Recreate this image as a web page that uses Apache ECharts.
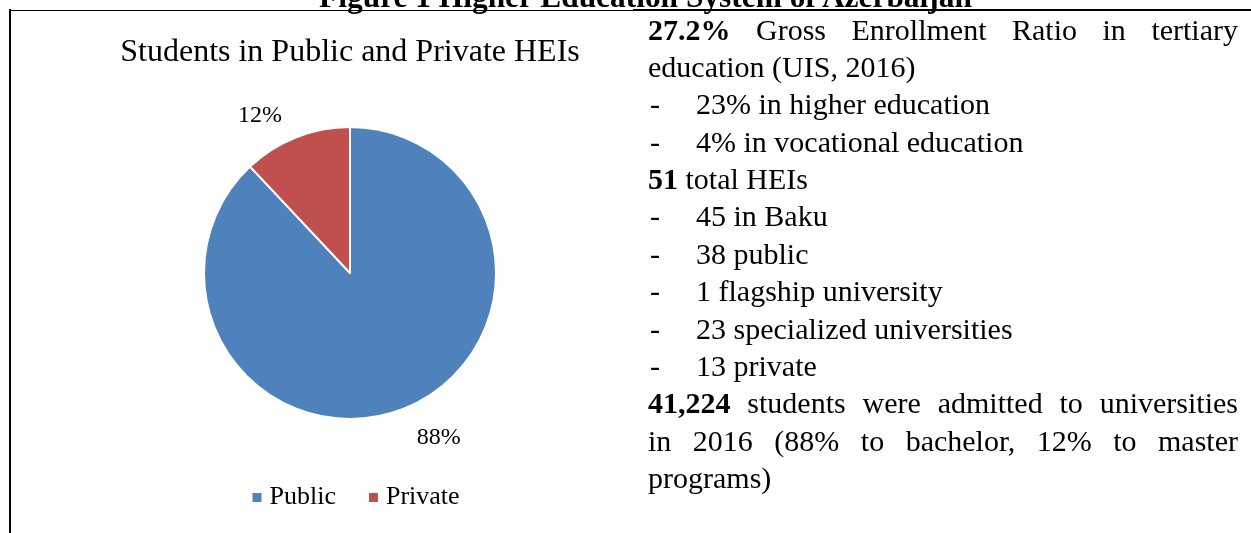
<!DOCTYPE html>
<html>
<head>
<meta charset="utf-8">
<script src="https://cdn.jsdelivr.net/npm/echarts@6/dist/echarts.min.js"></script>
<style>
html,body{margin:0;padding:0;background:#fff;width:1251px;height:533px;overflow:hidden;}
#chart{position:absolute;left:0;top:0;width:700px;height:533px;}
.serif{font-family:"Liberation Serif","Times New Roman",serif;color:#000;}
#figTitle{position:absolute;left:0;width:1291px;top:-19px;font-weight:bold;font-size:31.4px;line-height:31px;text-align:center;white-space:nowrap;z-index:1;}
.rule{position:absolute;background:#000;z-index:2;}
#panel{position:absolute;left:648px;top:10.5px;width:590px;font-size:30px;line-height:37.4px;z-index:3;}
.ln{white-space:nowrap;height:37.4px;}
.just{text-align:justify;text-align-last:justify;white-space:normal;}
.dash{display:inline-block;width:46px;padding-left:2px;}
</style>
</head>
<body>
<div id="chart"></div>
<div id="figTitle" class="serif">Figure 1 Higher Education System of Azerbaijan</div>
<div class="rule" style="left:9px;top:10px;width:624px;height:1px;"></div>
<div class="rule" style="left:633px;top:9px;width:618px;height:2px;"></div>
<div class="rule" style="left:9px;top:9px;width:2px;height:524px;"></div>
<div id="panel" class="serif"></div>
<script>
// ---- data ----
const categories = ['Public', 'Private'];
const shares = [88, 12];
const chartTitle = 'Students in Public and Private HEIs';
const panelLines = [
  {bold: '27.2%', text: ' Gross Enrollment Ratio in tertiary', justify: true},
  {text: 'education (UIS, 2016)'},
  {dash: true, text: '23% in higher education'},
  {dash: true, text: '4% in vocational education'},
  {bold: '51', text: ' total HEIs'},
  {dash: true, text: '45 in Baku'},
  {dash: true, text: '38 public'},
  {dash: true, text: '1 flagship university'},
  {dash: true, text: '23 specialized universities'},
  {dash: true, text: '13 private'},
  {bold: '41,224', text: ' students were admitted to universities', justify: true},
  {text: 'in 2016 (88% to bachelor, 12% to master', justify: true},
  {text: 'programs)'}
];

// ---- styles ----
const FONT = '"Liberation Serif", "Times New Roman", serif';
const sliceColors = ['#4F81BD', '#C0504D'];
const labelTweaks = [{length: 31.5, dist: 1.4}, {length: 23.4, dist: 5.6}];

// right-hand text panel
const panel = document.getElementById('panel');
panelLines.forEach(function (l) {
  const d = document.createElement('div');
  d.className = 'ln' + (l.justify ? ' just' : '');
  if (l.dash) {
    const s = document.createElement('span');
    s.className = 'dash';
    s.textContent = '-';
    d.appendChild(s);
  }
  if (l.bold) {
    const b = document.createElement('b');
    b.textContent = l.bold;
    d.appendChild(b);
  }
  d.appendChild(document.createTextNode(l.text));
  panel.appendChild(d);
});

const chart = echarts.init(document.getElementById('chart'), null, {renderer: 'canvas'});
chart.setOption({
  animation: false,
  title: {
    text: chartTitle,
    left: 'center',
    top: 37,
    padding: 0,
    textStyle: {fontFamily: FONT, fontSize: 32, fontWeight: 'normal', color: '#000'}
  },
  legend: {
    data: categories,
    left: 252.5,
    top: 484.5,
    padding: 0,
    icon: 'rect',
    itemWidth: 9,
    itemHeight: 9,
    itemGap: 33,
    itemStyle: {borderWidth: 0},
    textStyle: {fontFamily: FONT, fontSize: 26, color: '#000', padding: [0, 0, 0, 3]}
  },
  series: [{
    type: 'pie',
    center: [350, 273],
    radius: 146,
    startAngle: 90,
    clockwise: true,
    avoidLabelOverlap: false,
    itemStyle: {borderColor: '#fff', borderWidth: 2},
    label: {show: true, position: 'outside', formatter: '{d}%', fontFamily: FONT, fontSize: 24, color: '#000'},
    labelLine: {show: false, length2: 0},
    emphasis: {disabled: true},
    data: categories.map(function (c, i) {
      return {
        name: c,
        value: shares[i],
        itemStyle: {color: sliceColors[i]},
        label: {distanceToLabelLine: labelTweaks[i].dist},
        labelLine: {show: false, length: labelTweaks[i].length, length2: 0}
      };
    })
  }]
});
</script>
</body>
</html>
